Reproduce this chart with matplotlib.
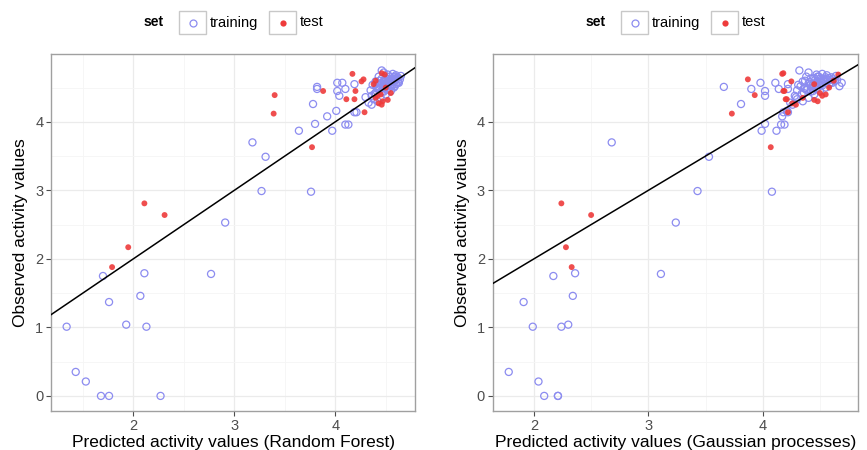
import matplotlib; matplotlib.use("Agg")
import matplotlib.pyplot as plt
from matplotlib.patches import Rectangle
from matplotlib.lines import Line2D
from matplotlib.ticker import MultipleLocator

plt.rcParams["font.family"] = ["Liberation Sans", "DejaVu Sans"]

TRAIN = "#8C8CF0"; TEST = "#EE3B3B"; GRID = "#EBEBEB"; MINOR = "#F5F5F5"; BORDER = "#A0A0A0"; TICK = "#4D4D4D"

# training compounds: observed value, RF prediction, GP prediction
obs_train = [0.00, 0.00, 0.00, 0.21, 0.35, 1.01, 1.01, 1.04, 1.37, 1.46, 1.75, 1.79, 1.78, 2.53,
             2.99, 2.98, 3.49, 3.70, 3.87, 3.97, 3.87, 3.96, 3.96, 4.08, 4.14, 4.16, 4.14, 4.26,
             4.51, 4.48, 4.57, 4.57, 4.48, 4.45, 4.38, 4.55,
             4.30, 4.33, 4.35, 4.38, 4.40, 4.42, 4.44, 4.45, 4.47, 4.48, 4.50, 4.50, 4.52, 4.53,
             4.55, 4.55, 4.56, 4.57, 4.58, 4.58, 4.60, 4.60, 4.61, 4.62, 4.62, 4.63, 4.64, 4.65,
             4.65, 4.66, 4.67, 4.68, 4.70, 4.72, 4.75, 4.25, 4.28, 4.36, 4.41, 4.46, 4.49, 4.54,
             4.59, 4.63, 4.66, 4.69, 4.52, 4.57, 4.61, 4.48,
             4.45, 4.50, 4.53, 4.56, 4.58, 4.60, 4.62, 4.64, 4.55, 4.51, 4.47, 4.59, 4.63, 4.66,
             4.54, 4.57, 4.61, 4.49, 4.52, 4.60]
rf_train = [1.68, 1.76, 2.27, 1.53, 1.43, 1.34, 2.13, 1.93, 1.76, 2.07, 1.70, 2.11, 2.77, 2.91,
            3.27, 3.76, 3.31, 3.18, 3.64, 3.80, 3.97, 4.10, 4.13, 3.92, 4.19, 4.01, 4.21, 3.78,
            3.82, 3.82, 4.02, 4.07, 4.10, 4.02, 4.04, 4.19,
            4.42, 4.38, 4.45, 4.36, 4.50, 4.40, 4.48, 4.55, 4.43, 4.52, 4.47, 4.58, 4.41, 4.55,
            4.49, 4.60, 4.45, 4.53, 4.62, 4.48, 4.57, 4.44, 4.60, 4.52, 4.64, 4.56, 4.50, 4.62,
            4.58, 4.54, 4.65, 4.60, 4.57, 4.48, 4.46, 4.36, 4.33, 4.30, 4.39, 4.35, 4.42, 4.37,
            4.40, 4.46, 4.43, 4.52, 4.59, 4.63, 4.55, 4.44,
            4.47, 4.50, 4.54, 4.52, 4.56, 4.58, 4.55, 4.61, 4.46, 4.49, 4.51, 4.53, 4.57, 4.59,
            4.44, 4.62, 4.50, 4.41, 4.56, 4.48]
gp_train = [2.09, 2.21, 2.21, 2.04, 1.78, 1.99, 2.24, 2.30, 1.91, 2.34, 2.17, 2.36, 3.11, 3.24,
            3.43, 4.08, 3.53, 2.68, 3.99, 4.02, 4.12, 4.16, 4.19, 4.17, 4.18, 4.21, 4.22, 3.81,
            3.66, 3.90, 3.98, 4.11, 4.14, 4.02, 4.02, 4.22,
            4.35, 4.30, 4.40, 4.28, 4.45, 4.36, 4.42, 4.50, 4.38, 4.47, 4.43, 4.55, 4.33, 4.52,
            4.44, 4.58, 4.40, 4.48, 4.60, 4.41, 4.53, 4.37, 4.57, 4.46, 4.62, 4.50, 4.45, 4.60,
            4.55, 4.48, 4.64, 4.56, 4.52, 4.40, 4.32, 4.26, 4.24, 4.29, 4.34, 4.30, 4.37, 4.31,
            4.35, 4.42, 4.38, 4.47, 4.67, 4.69, 4.65, 4.22,
            4.44, 4.48, 4.50, 4.52, 4.47, 4.54, 4.56, 4.58, 4.42, 4.45, 4.39, 4.51, 4.53, 4.49,
            4.46, 4.61, 4.59, 4.36, 4.43, 4.63]

# test compounds
obs_test = [1.88, 2.17, 2.64, 2.81, 3.63, 4.12, 4.39, 4.45, 4.70, 4.33, 4.45, 4.33, 4.14, 4.59,
            4.71, 4.62, 4.27, 4.30, 4.40, 4.50, 4.35, 4.55, 4.25, 4.42, 4.60, 4.32, 4.69, 4.38]
rf_test = [1.79, 1.95, 2.31, 2.11, 3.77, 3.39, 3.40, 3.88, 4.17, 4.11, 4.20, 4.19, 4.29, 4.26,
           4.46, 4.28, 4.43, 4.47, 4.45, 4.50, 4.40, 4.38, 4.46, 4.55, 4.40, 4.52, 4.49, 4.42]
gp_test = [2.33, 2.28, 2.50, 2.24, 4.07, 3.73, 3.93, 4.18, 4.17, 4.20, 4.19, 4.21, 4.22, 4.25,
           4.18, 3.87, 4.26, 4.48, 4.55, 4.58, 4.35, 4.45, 4.29, 4.50, 4.62, 4.45, 4.66, 4.52]

panels = [
    ("Predicted activity values (Random Forest)", rf_train, rf_test, (1.185, 4.79), [0.0588, 0.0867, 0.4199, 0.7933], 154),
    ("Predicted activity values (Gaussian processes)", gp_train, gp_test, (1.64, 4.83), [0.5683, 0.0867, 0.4210, 0.7933], 596),
]

fig = plt.figure(figsize=(8.67, 4.5), dpi=100)
W, H = 867, 450

for xlabel, xtr, xte, xlim, rect, legx in panels:
    ax = fig.add_axes(rect)
    ax.set_xlim(*xlim); ax.set_ylim(-0.22, 4.99)
    ax.xaxis.set_major_locator(MultipleLocator(1)); ax.xaxis.set_minor_locator(MultipleLocator(0.5))
    ax.yaxis.set_major_locator(MultipleLocator(1)); ax.yaxis.set_minor_locator(MultipleLocator(0.5))
    ax.grid(which="major", color=GRID, lw=0.9, zorder=0)
    ax.grid(which="minor", color=MINOR, lw=0.6, zorder=0)
    ax.set_axisbelow(True)
    for s in ax.spines.values():
        s.set_color(BORDER); s.set_linewidth(1.0)
    ax.tick_params(which="major", length=3.5, width=0.8, color=TICK, labelcolor=TICK, labelsize=10.5, pad=2)
    ax.tick_params(which="minor", length=0)

    ax.scatter(xtr, obs_train, s=26, facecolors="none", edgecolors=TRAIN, linewidths=0.9, zorder=3)
    ax.scatter(xte, obs_test, s=18, color=TEST, edgecolors="none", alpha=0.9, zorder=4)
    ax.axline((0, 0), slope=1, color="black", lw=1.1, zorder=5)

    ax.set_xlabel(xlabel, fontsize=12.5, labelpad=2)
    ax.set_ylabel("Observed activity values", fontsize=12.5, labelpad=5)

    # legend strip above each panel
    fig.text(legx / W, 1 - 22.5 / H, "set", fontsize=10, fontweight="bold", ha="center", va="center")
    bx = legx + 25
    for lab, kind in (("training", "train"), ("test", "test")):
        fig.add_artist(Rectangle((bx / W, 1 - 34 / H), 27 / W, 23 / H, transform=fig.transFigure,
                                 fc="white", ec="#C8C8C8", lw=1.0))
        cx, cy = (bx + 13.5) / W, 1 - 22.5 / H
        if kind == "train":
            fig.add_artist(Line2D([cx], [cy], marker="o", ms=5, mfc="none", mec=TRAIN, mew=0.9,
                                  transform=fig.transFigure))
        else:
            fig.add_artist(Line2D([cx], [cy], marker="o", ms=4.5, mfc=TEST, mec="none",
                                  transform=fig.transFigure))
        fig.text((bx + 31) / W, cy, lab, fontsize=10.5, ha="left", va="center")
        bx += 90

fig.savefig("out.png", dpi=100, facecolor="white")
